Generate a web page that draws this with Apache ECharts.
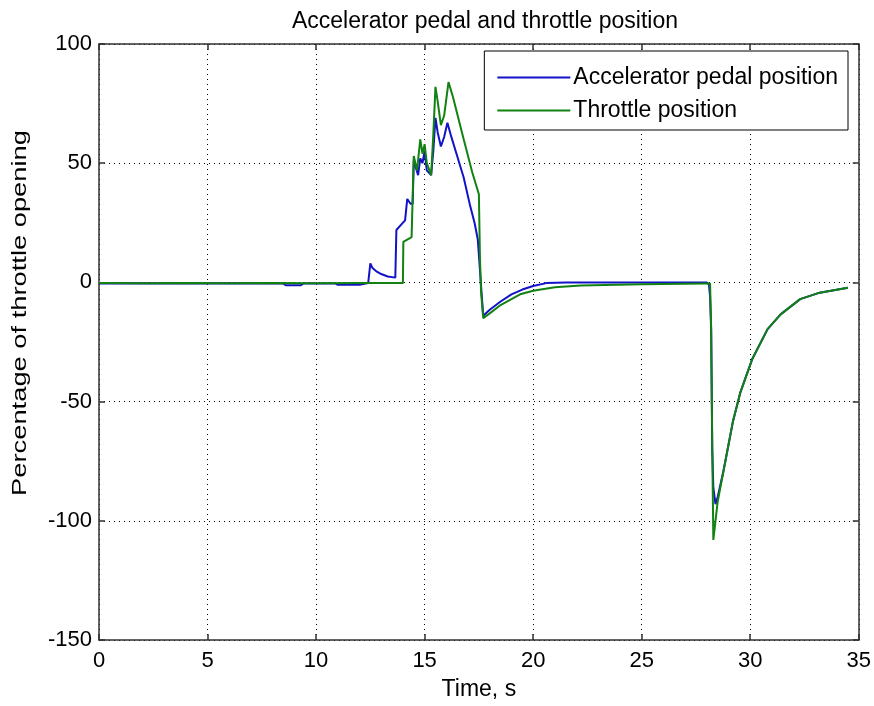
<!DOCTYPE html>
<html>
<head>
<meta charset="utf-8">
<script src="https://cdn.jsdelivr.net/npm/echarts@6/dist/echarts.min.js"></script>
<style>
  html, body { margin: 0; padding: 0; background: #fff; }
  #chart { width: 874px; height: 706px; }
</style>
</head>
<body>
<div id="chart"></div>
<script>
// Time stamps (s) and readings (%) for the accelerator pedal signal
const pedalTime = [0, 2, 4, 6, 8.5, 8.6, 9.3, 9.4, 10.9, 11.0, 12.0, 12.4, 12.5, 12.6, 12.8, 13.0, 13.3, 13.65,
  13.7, 13.9, 14.1, 14.2, 14.35, 14.45, 14.5, 14.6, 14.7, 14.8, 14.9, 15.0, 15.1, 15.3, 15.4, 15.5, 15.6, 15.75,
  15.9, 16.05, 16.2, 16.5, 16.8, 17.1, 17.3, 17.45, 17.55, 17.62, 17.7, 18.0, 18.5, 19.0, 19.5, 20.0, 20.6, 21.5,
  25, 28.0, 28.1, 28.15, 28.2, 28.25, 28.3, 28.4, 28.5, 28.77, 29.2, 29.55, 30.1, 30.8, 31.4, 32.3, 33.2, 34.5];
const pedalValue = [-0.5, -0.4, -0.5, -0.4, -0.5, -1.2, -1.2, -0.5, -0.5, -1.0, -1.0, -0.3, 8, 6, 4.5, 3.5, 2.5, 2,
  22, 24, 26, 35, 33, 33, 51, 48, 45, 52, 50, 55, 47, 45, 55, 69, 63, 57,
  61, 67, 62, 53, 44, 32, 25, 18, 5, -4, -14, -11.5, -8, -5, -3, -1.5, -0.3, 0,
  0, 0, -1, -6, -20, -70, -86, -93, -90, -79, -58.5, -46, -32, -19.6, -13.4, -7, -4.3, -2.2];

// Time stamps (s) and readings (%) for the throttle position signal
const throttleTime = [0, 2, 4, 6, 8, 10, 12, 14.0, 14.02, 14.4, 14.5, 14.65, 14.8, 14.9, 15.0, 15.1, 15.3, 15.4,
  15.5, 15.6, 15.75, 15.9, 16.1, 16.3, 16.8, 17.2, 17.5, 17.55, 17.6, 17.7, 18.0, 18.5, 19.0, 19.4, 20.0, 21.0,
  22.2, 25, 28.0, 28.15, 28.2, 28.25, 28.3, 28.4, 28.5, 28.77, 29.2, 29.55, 30.1, 30.8, 31.4, 32.3, 33.2, 34.5];
const throttleValue = [-0.3, -0.4, -0.3, -0.4, -0.3, -0.4, -0.3, -0.3, 17, 19, 53, 47, 60, 54, 58, 50, 45, 62,
  82, 76, 66, 70, 84, 78, 60, 46, 37, 10, -4, -15, -13, -9.5, -7, -5, -3.5, -2,
  -1.3, -0.8, -0.5, -0.5, -19, -68, -108, -100, -92, -79, -58.5, -46, -32, -19.6, -13.4, -7, -4.3, -2.2];

// Axis ticks
const xTicks = [0, 5, 10, 15, 20, 25, 30, 35];
const yTicks = [-150, -100, -50, 0, 50, 100];

const pedalData = pedalTime.map((t, i) => [t, pedalValue[i]]);
const throttleData = throttleTime.map((t, i) => [t, throttleValue[i]]);

const FONT = 'Liberation Sans, Arial, sans-serif';
const axisDark = '#303030';
const dotted = { color: '#000', width: 1, type: [1, 4] };

const chart = echarts.init(document.getElementById('chart'), null, { renderer: 'canvas' });

const baseX = {
  type: 'value',
  min: xTicks[0],
  max: xTicks[xTicks.length - 1],
  interval: 5
};
const baseY = {
  type: 'value',
  min: yTicks[0],
  max: yTicks[yTicks.length - 1],
  interval: 50
};
const frameLine = { show: true, onZero: false, lineStyle: { color: axisDark, width: 1.5 } };
const innerTick = { show: true, inside: true, length: 6, lineStyle: { color: axisDark, width: 1.5 } };

chart.setOption({
  backgroundColor: '#fff',
  animation: false,
  title: {
    text: 'Accelerator pedal and throttle position',
    left: 480,
    textAlign: 'center',
    top: 5,
    textStyle: { fontFamily: FONT, fontSize: 23, fontWeight: 'normal', color: '#000' }
  },
  legend: {
    orient: 'vertical',
    right: 26,
    top: 51,
    backgroundColor: '#fff',
    borderColor: '#000',
    borderWidth: 1,
    padding: [15, 10, 8, 13],
    itemGap: 10,
    itemWidth: 73,
    itemHeight: 2,
    icon: 'rect',
    textStyle: { fontFamily: FONT, fontSize: 23, color: '#000', padding: [0, 0, 0, -2] },
    data: ['Accelerator pedal position', 'Throttle position']
  },
  graphic: [
    {
      type: 'text',
      x: 20,
      y: 313,
      rotation: Math.PI / 2,
      scaleX: 1.3,
      scaleY: 1,
      style: {
        text: 'Percentage of throttle opening',
        font: '21px Liberation Sans, Arial, sans-serif',
        fill: '#000',
        align: 'center',
        verticalAlign: 'middle',
        textAlign: 'center',
        textVerticalAlign: 'middle'
      }
    }
  ],
  grid: { left: 99, right: 13, top: 44, bottom: 63, containLabel: false },
  xAxis: [
    Object.assign({}, baseX, {
      position: 'bottom',
      name: 'Time, s',
      nameLocation: 'middle',
      nameGap: 38,
      nameTextStyle: { fontFamily: FONT, fontSize: 23, color: '#000' },
      axisLine: frameLine,
      axisTick: innerTick,
      axisLabel: { fontFamily: FONT, fontSize: 22, color: '#000', margin: 10 },
      splitLine: { show: true, lineStyle: dotted }
    }),
    Object.assign({}, baseX, {
      position: 'top',
      axisLine: frameLine,
      axisTick: innerTick,
      axisLabel: { show: false },
      splitLine: { show: false }
    })
  ],
  yAxis: [
    Object.assign({}, baseY, {
      position: 'left',
      axisLine: frameLine,
      axisTick: innerTick,
      axisLabel: { fontFamily: FONT, fontSize: 22, color: '#000', margin: 7 },
      splitLine: { show: true, lineStyle: dotted }
    }),
    Object.assign({}, baseY, {
      position: 'right',
      axisLine: frameLine,
      axisTick: innerTick,
      axisLabel: { show: false },
      splitLine: { show: false }
    })
  ],
  series: [
    {
      name: 'Accelerator pedal position',
      type: 'line',
      xAxisIndex: 0,
      yAxisIndex: 0,
      data: pedalData,
      showSymbol: false,
      symbol: 'none',
      color: '#1212c8',
      lineStyle: { color: '#1212c8', width: 2 },
      z: 2
    },
    {
      name: 'Throttle position',
      type: 'line',
      xAxisIndex: 0,
      yAxisIndex: 0,
      data: throttleData,
      showSymbol: false,
      symbol: 'none',
      color: '#118211',
      lineStyle: { color: '#118211', width: 2 },
      z: 3
    }
  ]
});
</script>
</body>
</html>
